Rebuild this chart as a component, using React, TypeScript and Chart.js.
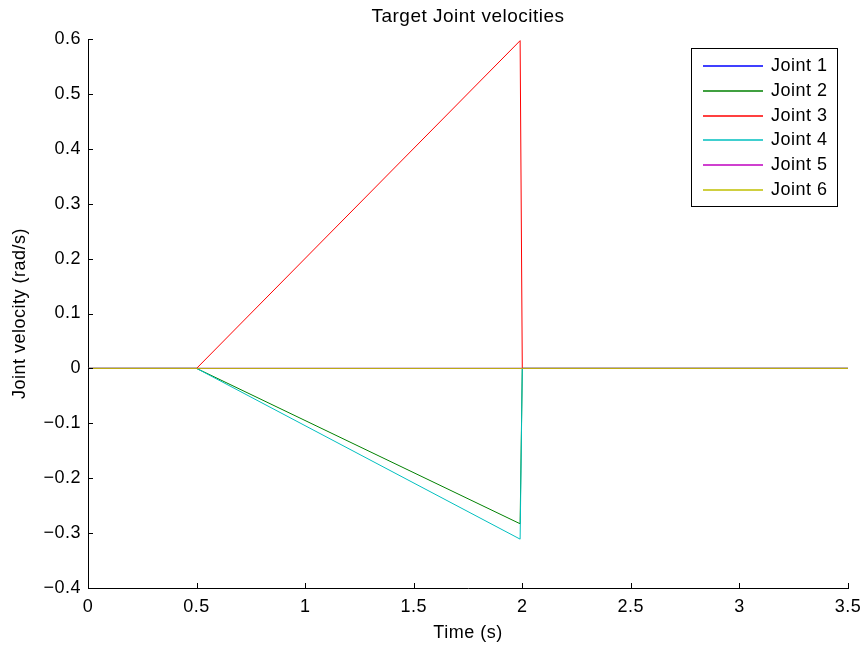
import React, { useEffect, useRef } from "react";
import { Chart, registerables } from "chart.js";

Chart.register(...registerables);

const timeS = [0, 0.5, 1.99, 2.0, 3.5];
const joint1 = [0, 0, 0, 0, 0];
const joint2 = [0, 0, -0.283, 0, 0];
const joint3 = [0, 0, 0.597, 0, 0];
const joint4 = [0, 0, -0.311, 0, 0];
const joint5 = [0, 0, 0, 0, 0];
const joint6 = [0, 0, 0, 0, 0];

const seriesLabels = ["Joint 1", "Joint 2", "Joint 3", "Joint 4", "Joint 5", "Joint 6"];
const seriesValues = [joint1, joint2, joint3, joint4, joint5, joint6];
const seriesColors = ["#0000ff", "#008000", "#ff0000", "#00bfbf", "#bf00bf", "#bfbf00"];

const titleText = "Target Joint velocities";
const xTitle = "Time (s)";
const yTitle = "Joint velocity (rad/s)";

const FONT = "'Liberation Sans', Arial, Helvetica, sans-serif";
const SPACING = "0.5px";

const fmt = (v: number) => {
  const r = Math.round(v * 10) / 10;
  if (r === 0) return "0";
  const s = Number.isInteger(r) ? String(Math.abs(r)) : Math.abs(r).toFixed(1);
  return (r < 0 ? "\u2212" : "") + s;
};

const spacingPlugin = {
  id: "spacing",
  beforeDraw(chart: any) {
    (chart.ctx as any).letterSpacing = SPACING;
  },
};

const matlabPlugin = {
  id: "matlabDecor",
  afterDraw(chart: any) {
    const ctx = chart.ctx;
    const { left, right, bottom } = chart.chartArea;
    ctx.save();
    (ctx as any).letterSpacing = SPACING;
    ctx.strokeStyle = "#000";
    ctx.lineWidth = 1;
    const xs = chart.scales.x;
    const ys = chart.scales.y;
    ctx.beginPath();
    xs.ticks.forEach((t: any) => {
      const px = Math.round(xs.getPixelForValue(t.value)) + 0.5;
      ctx.moveTo(px, bottom);
      ctx.lineTo(px, bottom - 5);
    });
    ys.ticks.forEach((t: any) => {
      const py = Math.round(ys.getPixelForValue(t.value)) + 0.5;
      ctx.moveTo(left, py);
      ctx.lineTo(left + 5, py);
    });
    ctx.stroke();
    // title
    ctx.fillStyle = "#000";
    ctx.font = `19px ${FONT}`;
    ctx.textAlign = "center";
    ctx.textBaseline = "middle";
    ctx.fillText(titleText, (left + right) / 2, 17);
    // legend
    const bx = 691.5, by = 48.5, bw = 146, bh = 158;
    ctx.fillStyle = "#fff";
    ctx.fillRect(bx, by, bw, bh);
    ctx.strokeStyle = "#000";
    ctx.lineWidth = 1;
    ctx.strokeRect(bx, by, bw, bh);
    ctx.font = `18px ${FONT}`;
    ctx.textAlign = "left";
    chart.data.datasets.forEach((ds: any, i: number) => {
      const yy = 66 + i * 24.8;
      ctx.strokeStyle = ds.borderColor;
      ctx.lineWidth = 1.5;
      ctx.beginPath();
      ctx.moveTo(703, Math.round(yy));
      ctx.lineTo(763, Math.round(yy));
      ctx.stroke();
      ctx.fillStyle = "#000";
      ctx.fillText(ds.label, 771, yy);
    });
    ctx.restore();
  },
};

export default function App() {
  const ref = useRef<HTMLCanvasElement | null>(null);
  useEffect(() => {
    if (!ref.current) return;
    const n = seriesLabels.length;
    const datasets = seriesLabels.map((label, i) => ({
      label,
      data: timeS.map((t, j) => ({ x: t, y: seriesValues[i][j] })),
      borderColor: seriesColors[i],
      backgroundColor: seriesColors[i],
      borderWidth: 1,
      pointRadius: 0,
      fill: false,
      tension: 0,
      order: n - i,
    }));
    const chart = new Chart(ref.current, {
      type: "line",
      data: { datasets },
      plugins: [spacingPlugin, matlabPlugin],
      options: {
        animation: false,
        responsive: false,
        maintainAspectRatio: false,
        layout: { padding: { left: 0, top: 39, right: 17, bottom: 0 } },
        plugins: { legend: { display: false }, title: { display: false }, tooltip: { enabled: false } },
        scales: {
          x: {
            type: "linear",
            min: 0,
            max: 3.5,
            afterFit: (s: any) => {
              s.height = 59;
              s.paddingLeft = 0;
              s.paddingRight = 0;
            },
            grid: { display: true, drawOnChartArea: false, drawTicks: false },
            border: { display: true, color: "#000", width: 1 },
            ticks: {
              stepSize: 0.5,
              padding: 8,
              color: "#000",
              font: { family: FONT, size: 18 },
              maxRotation: 0,
              callback: (v: any) => fmt(Number(v)),
            },
            title: { display: true, text: xTitle, color: "#000", font: { family: FONT, size: 18 }, padding: { top: 0, bottom: 3 } },
          },
          y: {
            type: "linear",
            min: -0.4,
            max: 0.6,
            afterFit: (s: any) => {
              s.width = 88;
              s.paddingTop = 0;
              s.paddingBottom = 0;
            },
            grid: { display: true, drawOnChartArea: false, drawTicks: false },
            border: { display: true, color: "#000", width: 1 },
            ticks: {
              stepSize: 0.1,
              padding: 7,
              color: "#000",
              font: { family: FONT, size: 18 },
              callback: (v: any) => fmt(Number(v)),
            },
            title: { display: true, text: yTitle, color: "#000", font: { family: FONT, size: 18 }, padding: { top: 9, bottom: 0 } },
          },
        },
      },
    });
    return () => chart.destroy();
  }, []);
  return (
    <div style={{ position: "fixed", left: 0, top: 0, width: 865, height: 647, background: "#fff" }}>
      <canvas ref={ref} width={865} height={647} />
    </div>
  );
}
